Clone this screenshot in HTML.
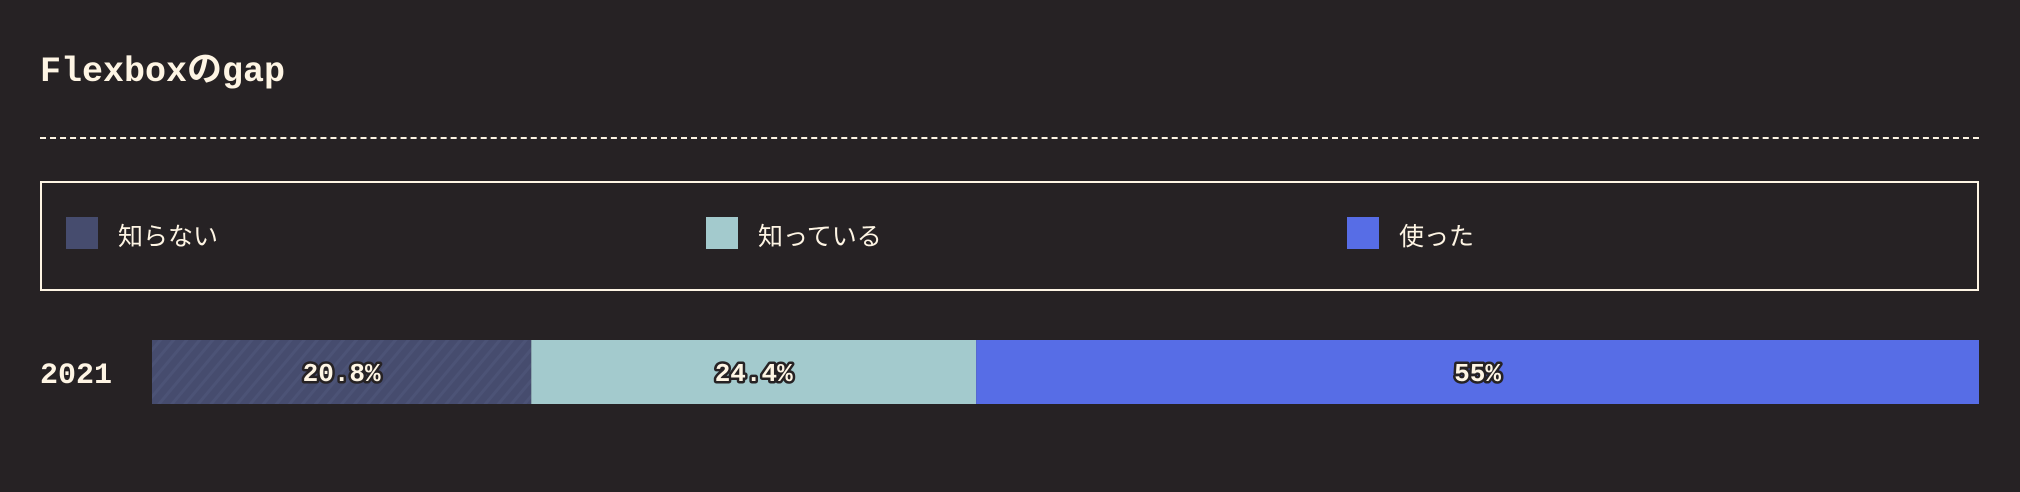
<!DOCTYPE html>
<html><head><meta charset="utf-8">
<style>
html,body{margin:0;padding:0;background:#262224;}
body{width:2020px;height:492px;position:relative;overflow:hidden;font-family:"Liberation Mono","Noto Sans CJK JP",monospace;color:#fef5e4;}
.title{position:absolute;left:40px;top:50px;font-size:35px;font-weight:bold;line-height:44px;}
.dash{position:absolute;left:40px;top:137px;width:1939px;border-top:2px dashed #fef5e4;}
.legend{position:absolute;left:40px;top:181px;width:1935px;height:106px;border:2px solid #fef5e4;}
.item{position:absolute;top:34px;height:32px;}
.sw{position:absolute;left:0;top:0;width:32px;height:32px;}
.lt{position:absolute;left:52px;top:4px;line-height:32px;font-size:25px;white-space:nowrap;font-family:"Liberation Sans","Noto Sans CJK JP",sans-serif;}
.year{position:absolute;left:40px;top:356px;font-size:30px;font-weight:bold;line-height:40px;}
svg{position:absolute;left:0;top:0;}
</style></head><body>
<div class="title">Flexboxのgap</div>
<div class="dash"></div>
<div class="legend">
 <div class="item" style="left:24px"><div class="sw" style="background:#464c6e"></div><div class="lt">知らない</div></div>
 <div class="item" style="left:664px"><div class="sw" style="background:#a3cacd"></div><div class="lt">知っている</div></div>
 <div class="item" style="left:1305px"><div class="sw" style="background:#576de6"></div><div class="lt">使った</div></div>
</div>
<div class="year">2021</div>
<svg id="chart" width="2020" height="492">
 <defs>
  <pattern id="stripes" width="10" height="10" patternUnits="userSpaceOnUse" patternTransform="rotate(40)">
   <rect width="10" height="10" fill="#464c6e"/>
   <rect width="3" height="10" fill="#4c5376"/>
  </pattern>
 </defs>
</svg>
<script>
const categories = ['知らない','知っている','使った'];
const values = [20.8, 24.4, 55];
const valueLabels = ['20.8%','24.4%','55%'];
const fills = ['url(#stripes)','#a3cacd','#576de6'];
const x0 = 152, x1 = 1979, barTop = 340, barH = 64;
const total = values.reduce((a,b)=>a+b,0);
function xScale(v){ return x0 + (x1 - x0) * v / total; }
const svg = document.getElementById('chart');
const NS = 'http://www.w3.org/2000/svg';
let acc = 0;
values.forEach((v,i)=>{
  const xa = xScale(acc), xb = xScale(acc+v);
  const r = document.createElementNS(NS,'rect');
  r.setAttribute('x', xa); r.setAttribute('y', barTop);
  r.setAttribute('width', xb-xa); r.setAttribute('height', barH);
  r.setAttribute('fill', fills[i]);
  
  
  svg.appendChild(r);
  const t = document.createElementNS(NS,'text');
  t.setAttribute('x', (xa+xb)/2); t.setAttribute('y', barTop + barH/2 + 9);
  t.setAttribute('text-anchor','middle');
  t.setAttribute('font-family','Liberation Mono, monospace');
  t.setAttribute('font-weight','bold'); t.setAttribute('font-size','26');
  t.setAttribute('fill','#fef5e4'); t.setAttribute('stroke','#262224');
  t.setAttribute('stroke-width','5'); t.setAttribute('paint-order','stroke');
  t.setAttribute('stroke-linejoin','round');
  t.textContent = valueLabels[i];
  
  
  svg.appendChild(t);
  acc += v;
});
</script>
</body></html>
